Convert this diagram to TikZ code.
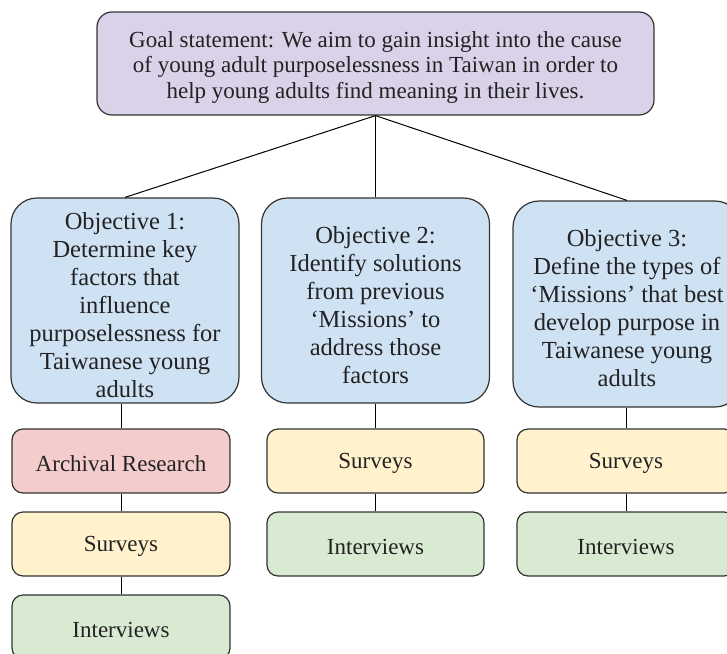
\documentclass[tikz,border=0pt]{standalone}
\usepackage{fontspec}
\setmainfont{Liberation Serif}
\definecolor{goalfill}{HTML}{D9D2E9}
\definecolor{objfill}{HTML}{CFE2F3}
\definecolor{archfill}{HTML}{F4CCCC}
\definecolor{survfill}{HTML}{FFF2CC}
\definecolor{intfill}{HTML}{D9EAD3}
\definecolor{edge}{HTML}{333333}
\definecolor{txt}{HTML}{222222}
\tikzset{
  boxbase/.style={draw=edge, line width=1.2pt, inner sep=0pt},
  goalbox/.style={boxbase, fill=goalfill, rounded corners=15pt, minimum width=557pt, minimum height=103pt},
  objbox/.style={boxbase, fill=objfill, rounded corners=26pt, minimum width=228pt, minimum height=205pt},
  methbox/.style={boxbase, rounded corners=11pt, minimum width=218pt, minimum height=64pt},
  goaltext/.style={text=txt, align=center, inner sep=0pt, yshift=-4pt, font=\fontsize{23}{25.5}\selectfont},
  objtext/.style={text=txt, align=center, inner sep=0pt, yshift=-4.5pt, font=\fontsize{24.5}{28}\selectfont},
  methtext/.style={text=txt, align=center, inner sep=0pt, yshift=-2.5pt, font=\fontsize{23}{26}\selectfont},
  link/.style={draw=black, line width=1pt}
}
\begin{document}
\begin{tikzpicture}[x=1pt,y=-1pt]
\useasboundingbox (0,0) rectangle (727,653);
\begin{scope}
\clip (0,0) rectangle (727,653);
\node[goalbox] (goal) at (375.5,63.5) {};
\node[goaltext] (goalt) at (goal.center) {Goal statement: We aim to gain insight into the cause\\of young adult purposelessness in Taiwan in order to\\help young adults find meaning in their lives.};

\node[objbox] (o1) at (125,300.5) {};
\node[objtext] (o1t) at (o1.center) {Objective 1:\\Determine key\\factors that\\influence\\purposelessness for\\Taiwanese young\\adults};
\node[objbox] (o2) at (375.5,300.5) {};
\node[objtext] (o2t) at (o2.center) {Objective 2:\\Identify solutions\\from previous\\‘Missions’ to\\address those\\factors};
\node[objbox, minimum height=206pt] (o3) at (627,304) {};
\node[objtext] (o3t) at (o3.center) {Objective 3:\\Define the types of\\‘Missions’ that best\\develop purpose in\\Taiwanese young\\adults};

\node[methbox, fill=archfill] (a1) at (121,461) {};
\node[methtext] (a1t) at (a1.center) {Archival Research};
\node[methbox, fill=survfill] (s1) at (121,544) {};
\node[methtext] (s1t) at (s1.center) {Surveys};
\node[methbox, fill=intfill] (i1) at (121,627) {};
\node[methtext] (i1t) at (i1.center) {Interviews};

\node[methbox, fill=survfill, minimum width=217pt] (s2) at (375.5,461) {};
\node[methtext] (s2t) at (s2.center) {Surveys};
\node[methbox, fill=intfill, minimum width=217pt] (i2) at (375.5,544) {};
\node[methtext] (i2t) at (i2.center) {Interviews};

\node[methbox, fill=survfill] (s3) at (626,461) {};
\node[methtext] (s3t) at (s3.center) {Surveys};
\node[methbox, fill=intfill] (i3) at (626,544) {};
\node[methtext] (i3t) at (i3.center) {Interviews};

\draw[link] (goal.south) -- (o1.north);
\draw[link] (goal.south) -- (o2.north);
\draw[link] (goal.south) -- (o3.north);

\draw[link] (a1.north |- o1.south) -- (a1.north);
\draw[link] (a1) -- (s1);
\draw[link] (s1) -- (i1);

\draw[link] (s2.north |- o2.south) -- (s2.north);
\draw[link] (s2) -- (i2);

\draw[link] (s3.north |- o3.south) -- (s3.north);
\draw[link] (s3) -- (i3);
\end{scope}
\end{tikzpicture}
\end{document}
